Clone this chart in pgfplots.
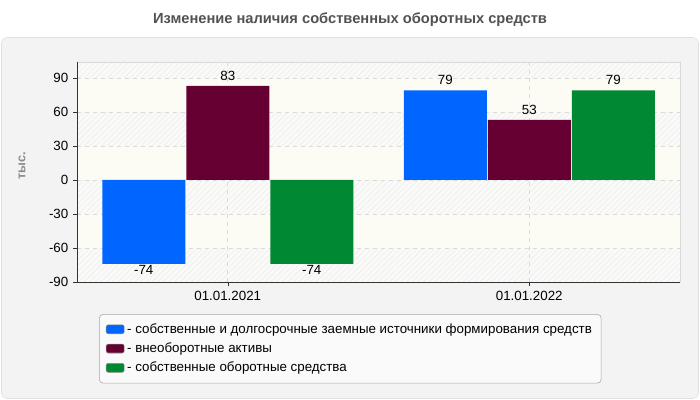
\documentclass[border=0pt]{standalone}
\usepackage{pgfplots}
\pgfplotsset{compat=1.18}
\usetikzlibrary{patterns.meta}
\usepackage{fontspec}
\setmainfont{Liberation Sans}

\definecolor{cblue}{HTML}{0066FF}
\definecolor{cmaroon}{HTML}{660033}
\definecolor{cgreen}{HTML}{008833}
\definecolor{panel}{HTML}{F3F3F3}
\definecolor{gridc}{HTML}{DADADA}
\definecolor{bandA}{HTML}{FAFAF8}
\definecolor{bandB}{HTML}{FCFCF5}

\begin{document}
\begin{tikzpicture}[x=0.75pt,y=0.75pt]
% page and panel (pixel units, y up)
\fill[white] (0,0) rectangle (700,400);
\filldraw[fill=panel,draw=black!12,rounded corners=4pt] (1.5,1.5) rectangle (698.5,362.5);
\node[font=\bfseries\fontsize{11}{13}\selectfont,text=black!68] at (350,380) {Изменение наличия собственных оборотных средств};
\node[font=\bfseries\fontsize{9.5}{11}\selectfont,text=black!45,rotate=90] at (22,234) {тыс.};

% plot background bands
\fill[bandA] (77,118) rectangle (680,338);
\fill[pattern={Lines[angle=45,distance=3pt,line width=0.35pt]},pattern color=black!8] (77,118) rectangle (680,338);
\fill[bandB] (77,288) rectangle (680,322);
\fill[bandB] (77,220) rectangle (680,254);
\fill[bandB] (77,152) rectangle (680,186);
\draw[black!15] (77,338) -- (680,338) -- (680,118);

\begin{axis}[
    at={(57.75pt,88.5pt)}, anchor=south west,
    scale only axis, width=452.25pt, height=165pt,
    xmin=-0.5, xmax=1.5, ymin=-90, ymax=104,
    axis x line*=bottom, axis y line*=left,
    axis line style={black!80},
    xtick={0,1}, xticklabels={01.01.2021,01.01.2022},
    ytick={-90,-60,...,90},
    tick align=outside, major tick length=3pt,
    tick style={black!80},
    grid=major,
    major grid style={gridc, dash pattern=on 3pt off 3pt},
    tick label style={font=\fontsize{10}{12}\selectfont},
    /pgf/number format/assume math mode=true,
    ybar=0.75pt, bar width=62.25pt,
    nodes near coords,
    visualization depends on={rawy \as \rawy},
    nodes near coords style={font=\fontsize{10}{12}\selectfont, text=black,
        /utils/exec={\ifdim\rawy pt<0pt\gdef\labshift{0pt}\else\gdef\labshift{3pt}\fi},
        anchor={\ifdim\rawy pt<0pt north\else south\fi}, inner sep=1pt,
        yshift=\labshift},
    legend style={at={(rel axis cs:0.0365,-0.1455)}, anchor=north west,
        draw=black!35, fill=black!2, rounded corners=3pt,
        font=\fontsize{10}{12}\selectfont, row sep=1.6pt,
        inner xsep=5pt, inner ysep=5pt},
    legend cell align=left,
    legend image code/.code={\draw[#1,draw=black!45,rounded corners=1.5pt] (0pt,-3.2pt) rectangle (13.5pt,3.5pt);},
]
\addplot[fill=cblue, draw=none] coordinates {(0,-74) (1,79)};
\addplot[fill=cmaroon, draw=none] coordinates {(0,83) (1,53)};
\addplot[fill=cgreen, draw=none] coordinates {(0,-74) (1,79)};
\legend{- собственные и долгосрочные заемные источники формирования средств,
        - внеоборотные активы,
        - собственные оборотные средства}
\end{axis}
\end{tikzpicture}
\end{document}
